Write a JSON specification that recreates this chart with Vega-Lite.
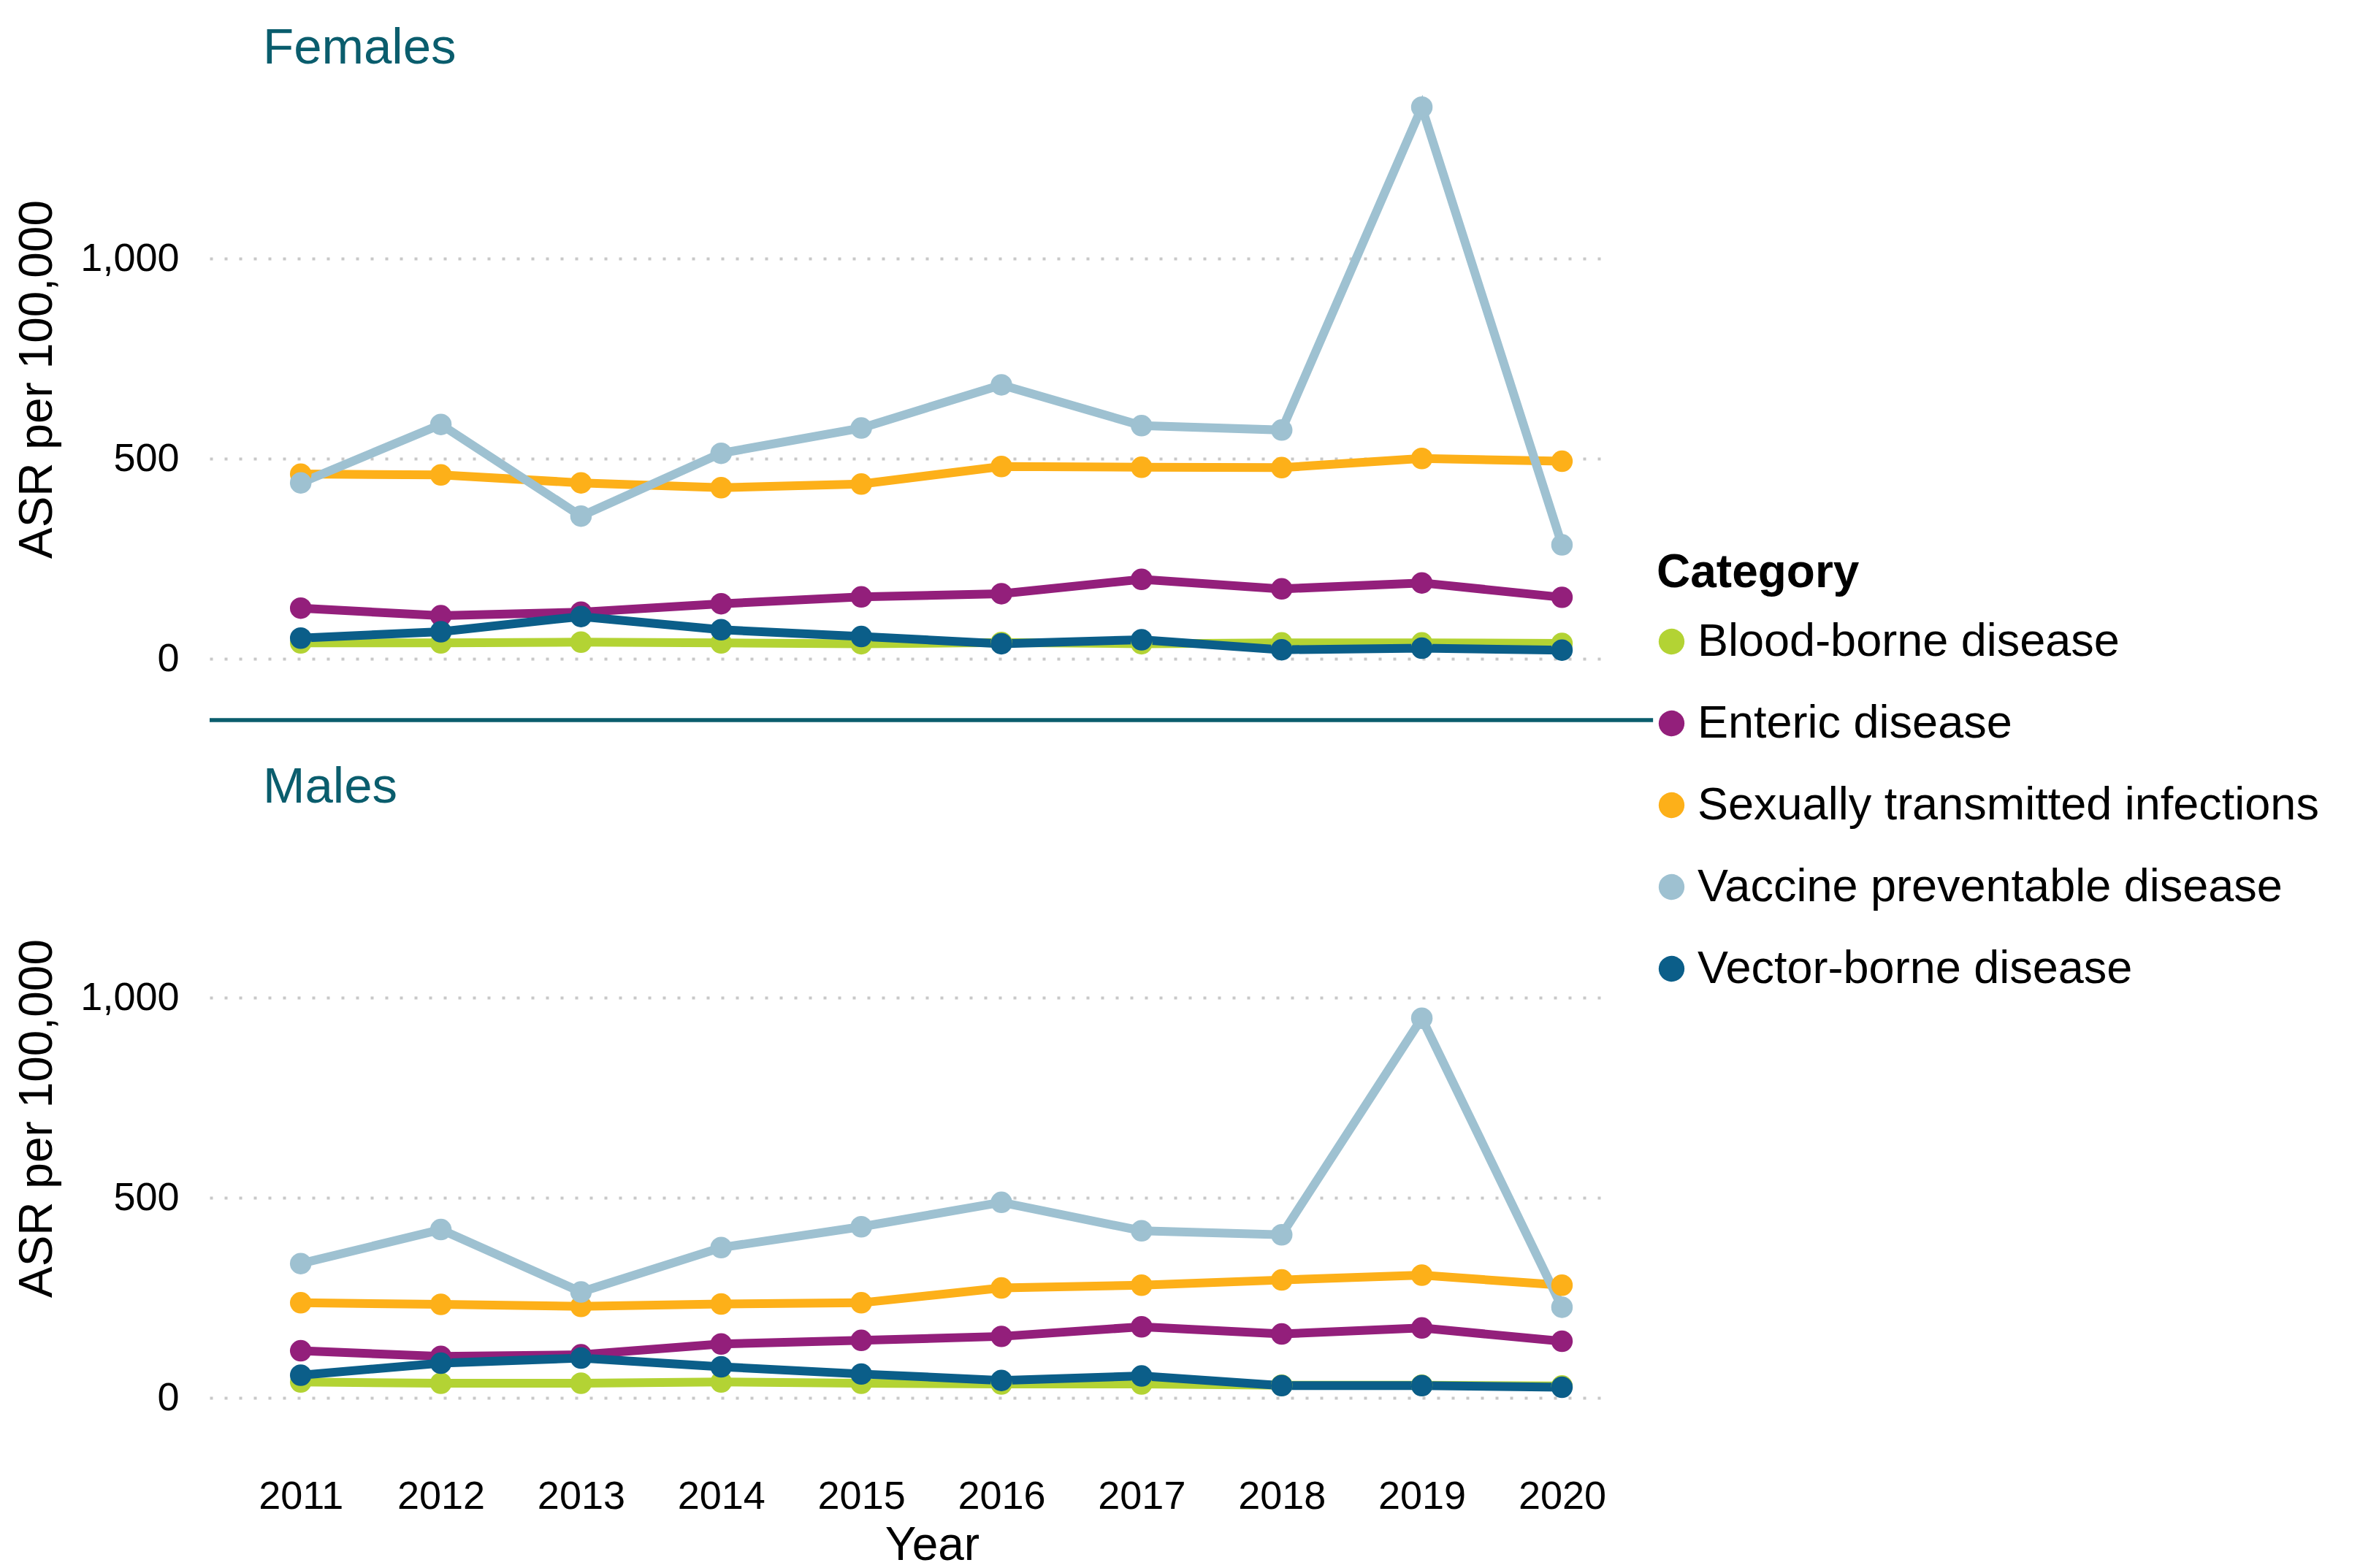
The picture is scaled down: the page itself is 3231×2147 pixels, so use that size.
{
  "$schema": "https://vega.github.io/schema/vega-lite/v6.json",
  "background": "white",
  "padding": {"left": 19, "top": 32, "right": 5, "bottom": 5},
  "datasets": {
    "asr": [
      {"Sex": "Females", "Year": 2011, "Category": "Blood-borne disease", "ASR": 40},
      {"Sex": "Females", "Year": 2012, "Category": "Blood-borne disease", "ASR": 40},
      {"Sex": "Females", "Year": 2013, "Category": "Blood-borne disease", "ASR": 42},
      {"Sex": "Females", "Year": 2014, "Category": "Blood-borne disease", "ASR": 40},
      {"Sex": "Females", "Year": 2015, "Category": "Blood-borne disease", "ASR": 38},
      {"Sex": "Females", "Year": 2016, "Category": "Blood-borne disease", "ASR": 41},
      {"Sex": "Females", "Year": 2017, "Category": "Blood-borne disease", "ASR": 38},
      {"Sex": "Females", "Year": 2018, "Category": "Blood-borne disease", "ASR": 40},
      {"Sex": "Females", "Year": 2019, "Category": "Blood-borne disease", "ASR": 40},
      {"Sex": "Females", "Year": 2020, "Category": "Blood-borne disease", "ASR": 39},
      {"Sex": "Females", "Year": 2011, "Category": "Enteric disease", "ASR": 127},
      {"Sex": "Females", "Year": 2012, "Category": "Enteric disease", "ASR": 108},
      {"Sex": "Females", "Year": 2013, "Category": "Enteric disease", "ASR": 117},
      {"Sex": "Females", "Year": 2014, "Category": "Enteric disease", "ASR": 138},
      {"Sex": "Females", "Year": 2015, "Category": "Enteric disease", "ASR": 155},
      {"Sex": "Females", "Year": 2016, "Category": "Enteric disease", "ASR": 163},
      {"Sex": "Females", "Year": 2017, "Category": "Enteric disease", "ASR": 199},
      {"Sex": "Females", "Year": 2018, "Category": "Enteric disease", "ASR": 175},
      {"Sex": "Females", "Year": 2019, "Category": "Enteric disease", "ASR": 190},
      {"Sex": "Females", "Year": 2020, "Category": "Enteric disease", "ASR": 154},
      {"Sex": "Females", "Year": 2011, "Category": "Sexually transmitted infections", "ASR": 462},
      {"Sex": "Females", "Year": 2012, "Category": "Sexually transmitted infections", "ASR": 460},
      {"Sex": "Females", "Year": 2013, "Category": "Sexually transmitted infections", "ASR": 440},
      {"Sex": "Females", "Year": 2014, "Category": "Sexually transmitted infections", "ASR": 428},
      {"Sex": "Females", "Year": 2015, "Category": "Sexually transmitted infections", "ASR": 437},
      {"Sex": "Females", "Year": 2016, "Category": "Sexually transmitted infections", "ASR": 481},
      {"Sex": "Females", "Year": 2017, "Category": "Sexually transmitted infections", "ASR": 479},
      {"Sex": "Females", "Year": 2018, "Category": "Sexually transmitted infections", "ASR": 478},
      {"Sex": "Females", "Year": 2019, "Category": "Sexually transmitted infections", "ASR": 501},
      {"Sex": "Females", "Year": 2020, "Category": "Sexually transmitted infections", "ASR": 494},
      {"Sex": "Females", "Year": 2011, "Category": "Vaccine preventable disease", "ASR": 440},
      {"Sex": "Females", "Year": 2012, "Category": "Vaccine preventable disease", "ASR": 586},
      {"Sex": "Females", "Year": 2013, "Category": "Vaccine preventable disease", "ASR": 357},
      {"Sex": "Females", "Year": 2014, "Category": "Vaccine preventable disease", "ASR": 514},
      {"Sex": "Females", "Year": 2015, "Category": "Vaccine preventable disease", "ASR": 577},
      {"Sex": "Females", "Year": 2016, "Category": "Vaccine preventable disease", "ASR": 685},
      {"Sex": "Females", "Year": 2017, "Category": "Vaccine preventable disease", "ASR": 583},
      {"Sex": "Females", "Year": 2018, "Category": "Vaccine preventable disease", "ASR": 572},
      {"Sex": "Females", "Year": 2019, "Category": "Vaccine preventable disease", "ASR": 1379},
      {"Sex": "Females", "Year": 2020, "Category": "Vaccine preventable disease", "ASR": 285},
      {"Sex": "Females", "Year": 2011, "Category": "Vector-borne disease", "ASR": 52},
      {"Sex": "Females", "Year": 2012, "Category": "Vector-borne disease", "ASR": 68},
      {"Sex": "Females", "Year": 2013, "Category": "Vector-borne disease", "ASR": 106},
      {"Sex": "Females", "Year": 2014, "Category": "Vector-borne disease", "ASR": 73},
      {"Sex": "Females", "Year": 2015, "Category": "Vector-borne disease", "ASR": 56},
      {"Sex": "Females", "Year": 2016, "Category": "Vector-borne disease", "ASR": 38},
      {"Sex": "Females", "Year": 2017, "Category": "Vector-borne disease", "ASR": 48},
      {"Sex": "Females", "Year": 2018, "Category": "Vector-borne disease", "ASR": 23},
      {"Sex": "Females", "Year": 2019, "Category": "Vector-borne disease", "ASR": 27},
      {"Sex": "Females", "Year": 2020, "Category": "Vector-borne disease", "ASR": 22},
      {"Sex": "Males", "Year": 2011, "Category": "Blood-borne disease", "ASR": 40},
      {"Sex": "Males", "Year": 2012, "Category": "Blood-borne disease", "ASR": 37},
      {"Sex": "Males", "Year": 2013, "Category": "Blood-borne disease", "ASR": 37},
      {"Sex": "Males", "Year": 2014, "Category": "Blood-borne disease", "ASR": 40},
      {"Sex": "Males", "Year": 2015, "Category": "Blood-borne disease", "ASR": 37},
      {"Sex": "Males", "Year": 2016, "Category": "Blood-borne disease", "ASR": 35},
      {"Sex": "Males", "Year": 2017, "Category": "Blood-borne disease", "ASR": 35},
      {"Sex": "Males", "Year": 2018, "Category": "Blood-borne disease", "ASR": 32},
      {"Sex": "Males", "Year": 2019, "Category": "Blood-borne disease", "ASR": 32},
      {"Sex": "Males", "Year": 2020, "Category": "Blood-borne disease", "ASR": 30},
      {"Sex": "Males", "Year": 2011, "Category": "Enteric disease", "ASR": 118},
      {"Sex": "Males", "Year": 2012, "Category": "Enteric disease", "ASR": 104},
      {"Sex": "Males", "Year": 2013, "Category": "Enteric disease", "ASR": 108},
      {"Sex": "Males", "Year": 2014, "Category": "Enteric disease", "ASR": 135},
      {"Sex": "Males", "Year": 2015, "Category": "Enteric disease", "ASR": 144},
      {"Sex": "Males", "Year": 2016, "Category": "Enteric disease", "ASR": 154},
      {"Sex": "Males", "Year": 2017, "Category": "Enteric disease", "ASR": 178},
      {"Sex": "Males", "Year": 2018, "Category": "Enteric disease", "ASR": 160},
      {"Sex": "Males", "Year": 2019, "Category": "Enteric disease", "ASR": 175},
      {"Sex": "Males", "Year": 2020, "Category": "Enteric disease", "ASR": 142},
      {"Sex": "Males", "Year": 2011, "Category": "Sexually transmitted infections", "ASR": 238},
      {"Sex": "Males", "Year": 2012, "Category": "Sexually transmitted infections", "ASR": 234},
      {"Sex": "Males", "Year": 2013, "Category": "Sexually transmitted infections", "ASR": 229},
      {"Sex": "Males", "Year": 2014, "Category": "Sexually transmitted infections", "ASR": 235},
      {"Sex": "Males", "Year": 2015, "Category": "Sexually transmitted infections", "ASR": 238},
      {"Sex": "Males", "Year": 2016, "Category": "Sexually transmitted infections", "ASR": 275},
      {"Sex": "Males", "Year": 2017, "Category": "Sexually transmitted infections", "ASR": 282},
      {"Sex": "Males", "Year": 2018, "Category": "Sexually transmitted infections", "ASR": 295},
      {"Sex": "Males", "Year": 2019, "Category": "Sexually transmitted infections", "ASR": 307},
      {"Sex": "Males", "Year": 2020, "Category": "Sexually transmitted infections", "ASR": 282},
      {"Sex": "Males", "Year": 2011, "Category": "Vaccine preventable disease", "ASR": 336},
      {"Sex": "Males", "Year": 2012, "Category": "Vaccine preventable disease", "ASR": 421},
      {"Sex": "Males", "Year": 2013, "Category": "Vaccine preventable disease", "ASR": 265},
      {"Sex": "Males", "Year": 2014, "Category": "Vaccine preventable disease", "ASR": 376},
      {"Sex": "Males", "Year": 2015, "Category": "Vaccine preventable disease", "ASR": 428},
      {"Sex": "Males", "Year": 2016, "Category": "Vaccine preventable disease", "ASR": 489},
      {"Sex": "Males", "Year": 2017, "Category": "Vaccine preventable disease", "ASR": 418},
      {"Sex": "Males", "Year": 2018, "Category": "Vaccine preventable disease", "ASR": 408},
      {"Sex": "Males", "Year": 2019, "Category": "Vaccine preventable disease", "ASR": 949},
      {"Sex": "Males", "Year": 2020, "Category": "Vaccine preventable disease", "ASR": 227},
      {"Sex": "Males", "Year": 2011, "Category": "Vector-borne disease", "ASR": 57},
      {"Sex": "Males", "Year": 2012, "Category": "Vector-borne disease", "ASR": 87},
      {"Sex": "Males", "Year": 2013, "Category": "Vector-borne disease", "ASR": 100},
      {"Sex": "Males", "Year": 2014, "Category": "Vector-borne disease", "ASR": 78},
      {"Sex": "Males", "Year": 2015, "Category": "Vector-borne disease", "ASR": 60},
      {"Sex": "Males", "Year": 2016, "Category": "Vector-borne disease", "ASR": 44},
      {"Sex": "Males", "Year": 2017, "Category": "Vector-borne disease", "ASR": 55},
      {"Sex": "Males", "Year": 2018, "Category": "Vector-borne disease", "ASR": 31},
      {"Sex": "Males", "Year": 2019, "Category": "Vector-borne disease", "ASR": 31},
      {"Sex": "Males", "Year": 2020, "Category": "Vector-borne disease", "ASR": 27}
    ]
  },
  "spacing": 55,
  "vconcat": [
    {
      "title": {"text": "Females", "anchor": "start", "frame": "group", "dx": 73, "offset": 9, "fontSize": 69, "fontWeight": "normal", "color": "#0a5d6d", "font": "Liberation Sans"},
      "width": 1909,
      "height": 818,
      "layer": [
        {
          "data": {"name": "asr"},
          "transform": [{"filter": "datum.Sex === 'Females'"}],
          "mark": {"type": "line", "strokeWidth": 12},
          "encoding": {
            "x": {"field": "Year", "type": "quantitative", "scale": {"domain": [2010.35, 2020.3], "nice": false, "zero": false}, "axis": null},
            "y": {"field": "ASR", "type": "quantitative", "scale": {"domain": [-47, 1446], "nice": false, "zero": false}, "axis": {"title": "ASR per 100,000", "values": [0, 500, 1000], "format": ",d"}},
            "color": {"field": "Category", "type": "nominal", "title": "Category"}
          }
        },
        {
          "data": {"name": "asr"},
          "transform": [{"filter": "datum.Sex === 'Females'"}],
          "mark": {"type": "point", "filled": true, "size": 870, "opacity": 1},
          "encoding": {
            "x": {"field": "Year", "type": "quantitative"},
            "y": {"field": "ASR", "type": "quantitative"},
            "color": {"field": "Category", "type": "nominal", "title": "Category"}
          }
        },
        {
          "data": {"values": [{}]},
          "mark": {"type": "rule", "color": "#0a5d6d", "strokeWidth": 5.5},
          "encoding": {
            "x": {"datum": 2010.35, "type": "quantitative"},
            "x2": {"datum": 2020.65},
            "y": {"datum": -153, "type": "quantitative"}
          }
        }
      ]
    },
    {
      "title": {"text": "Males", "anchor": "start", "frame": "group", "dx": 73, "offset": 9, "fontSize": 69, "fontWeight": "normal", "color": "#0a5d6d", "font": "Liberation Sans"},
      "width": 1909,
      "height": 818,
      "layer": [
        {
          "data": {"name": "asr"},
          "transform": [{"filter": "datum.Sex === 'Males'"}],
          "mark": {"type": "line", "strokeWidth": 12},
          "encoding": {
            "x": {"field": "Year", "type": "quantitative", "scale": {"domain": [2010.35, 2020.3], "nice": false, "zero": false}, "axis": {"title": "Year", "values": [2011, 2012, 2013, 2014, 2015, 2016, 2017, 2018, 2019, 2020], "format": "d", "grid": false, "labelPadding": 82, "titlePadding": 8, "titleX": 989}},
            "y": {"field": "ASR", "type": "quantitative", "scale": {"domain": [-47, 1446], "nice": false, "zero": false}, "axis": {"title": "ASR per 100,000", "values": [0, 500, 1000], "format": ",d"}},
            "color": {"field": "Category", "type": "nominal", "title": "Category"}
          }
        },
        {
          "data": {"name": "asr"},
          "transform": [{"filter": "datum.Sex === 'Males'"}],
          "mark": {"type": "point", "filled": true, "size": 870, "opacity": 1},
          "encoding": {
            "x": {"field": "Year", "type": "quantitative"},
            "y": {"field": "ASR", "type": "quantitative"},
            "color": {"field": "Category", "type": "nominal", "title": "Category"}
          }
        }
      ]
    }
  ],
  "resolve": {"scale": {"color": "shared"}},
  "config": {
    "font": "Liberation Sans",
    "view": {"stroke": null},
    "range": {"category": ["#b3d334", "#931f7b", "#fdb019", "#9ec1d1", "#0b5e89"]},
    "axis": {
      "domain": false,
      "ticks": false,
      "tickSize": 0,
      "labelFont": "Liberation Sans",
      "labelFontSize": 54,
      "labelColor": "#000000",
      "titleFont": "Liberation Sans",
      "titleFontSize": 64,
      "titleFontWeight": "normal",
      "titleColor": "#000000",
      "grid": true,
      "gridColor": "#c8c8c8",
      "gridWidth": 4,
      "gridDash": [4, 16]
    },
    "axisY": {"labelPadding": 42, "titlePadding": 26},
    "legend": {
      "orient": "none",
      "legendX": 1981,
      "legendY": 643,
      "padding": 0,
      "titleFont": "Liberation Sans",
      "titleFontSize": 64,
      "titleFontWeight": "bold",
      "titleColor": "#000000",
      "titlePadding": 30,
      "titleLimit": 1000,
      "labelFont": "Liberation Sans",
      "labelFontSize": 63,
      "labelColor": "#000000",
      "labelOffset": 4,
      "labelLimit": 1200,
      "symbolType": "circle",
      "symbolSize": 1250,
      "symbolOffset": -11,
      "symbolStrokeWidth": 0,
      "symbolOpacity": 1,
      "rowPadding": 48
    }
  }
}
